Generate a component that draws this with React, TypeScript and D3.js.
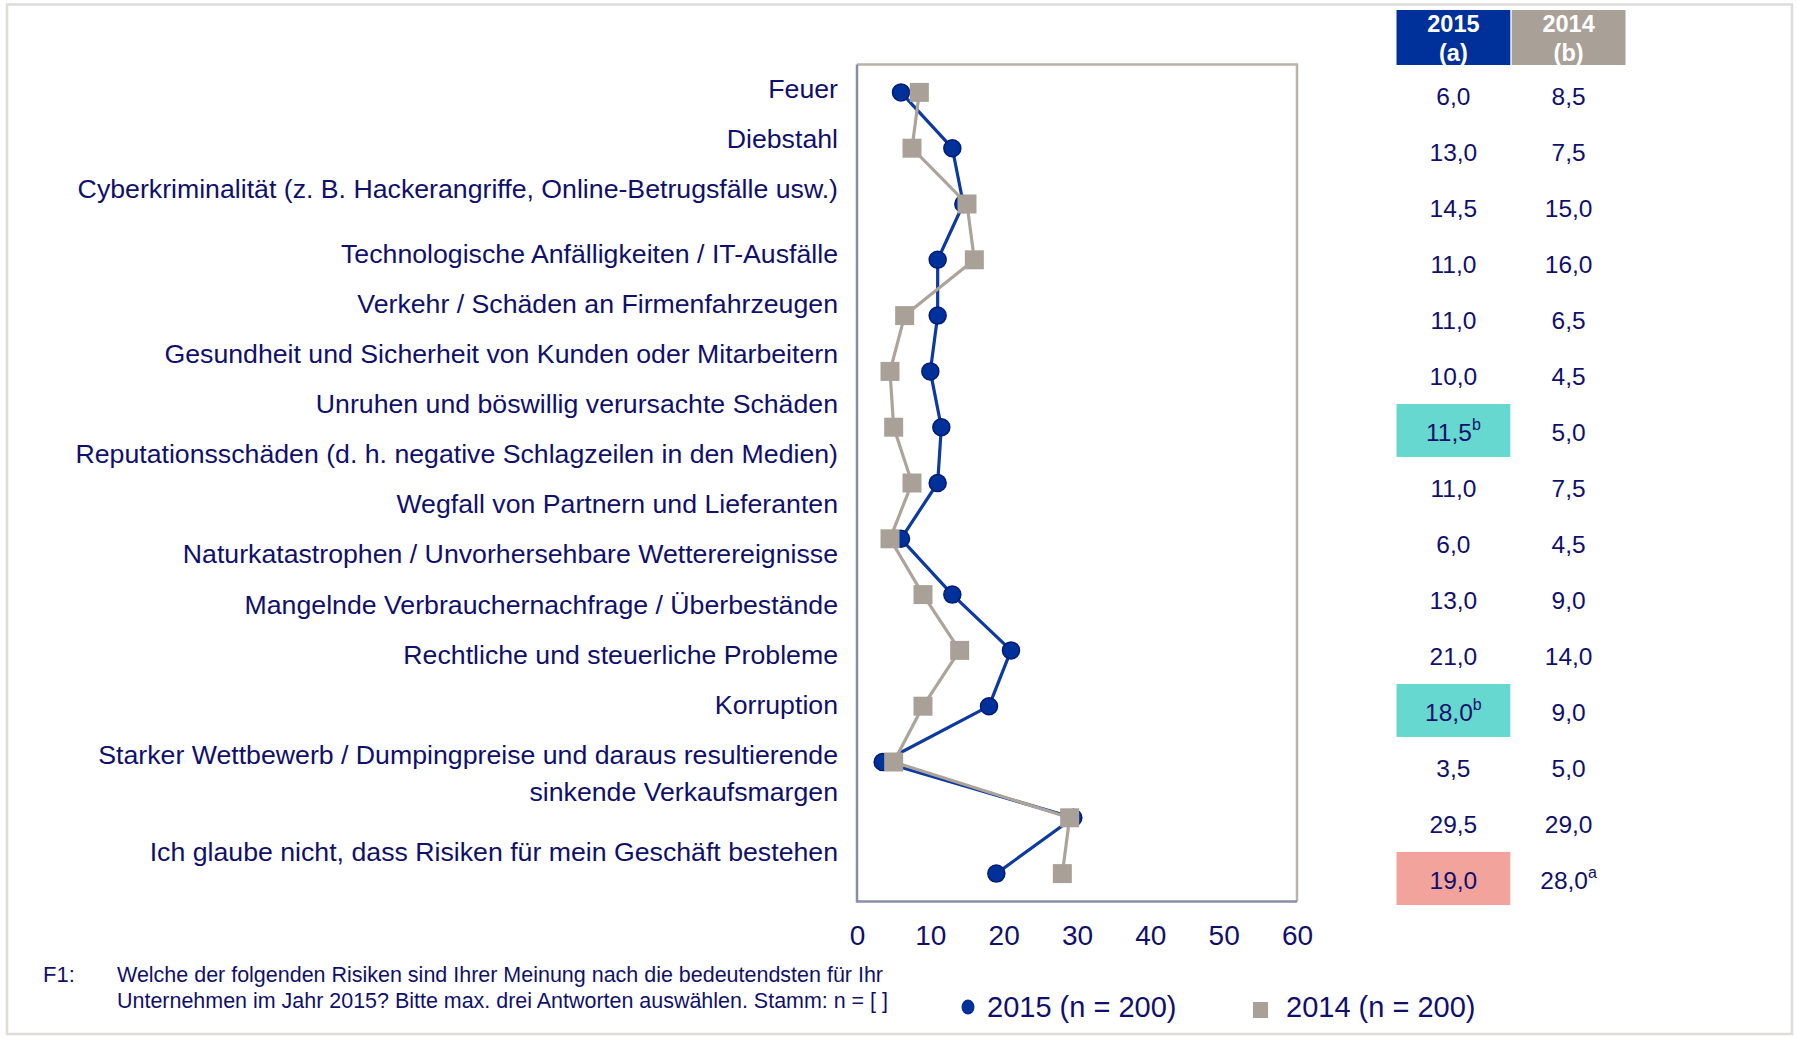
import * as d3 from "d3";
import React from "react";

// risk categories as printed on the left (one entry per label, wrapped lines split)
const labels: string[][] = [
  ["Feuer"],
  ["Diebstahl"],
  ["Cyberkriminalität (z. B. Hackerangriffe, Online-Betrugsfälle usw.)"],
  ["Technologische Anfälligkeiten / IT-Ausfälle"],
  ["Verkehr / Schäden an Firmenfahrzeugen"],
  ["Gesundheit und Sicherheit von Kunden oder Mitarbeitern"],
  ["Unruhen und böswillig verursachte Schäden"],
  ["Reputationsschäden (d. h. negative Schlagzeilen in den Medien)"],
  ["Wegfall von Partnern und Lieferanten"],
  ["Naturkatastrophen / Unvorhersehbare Wetterereignisse"],
  ["Mangelnde Verbrauchernachfrage / Überbestände"],
  ["Rechtliche und steuerliche Probleme"],
  ["Korruption"],
  ["Starker Wettbewerb / Dumpingpreise und daraus resultierende", "sinkende Verkaufsmargen"],
  ["Ich glaube nicht, dass Risiken für mein Geschäft bestehen"],
];

const values2015 = [6.0, 13.0, 14.5, 11.0, 11.0, 10.0, 11.5, 11.0, 6.0, 13.0, 21.0, 18.0, 3.5, 29.5, 19.0];
const values2014 = [8.5, 7.5, 15.0, 16.0, 6.5, 4.5, 5.0, 7.5, 4.5, 9.0, 14.0, 9.0, 5.0, 29.0, 28.0];
const sig2015 = ["", "", "", "", "", "", "b", "", "", "", "", "b", "", "", ""];
const sig2014 = ["", "", "", "", "", "", "", "", "", "", "", "", "", "", "a"];
// "up" = significantly higher than 2014, "down" = significantly lower
const change2015 = ["", "", "", "", "", "", "up", "", "", "", "", "up", "", "", "down"];

const xTicks = [0, 10, 20, 30, 40, 50, 60];
const headers = [
  ["2015", "(a)"],
  ["2014", "(b)"],
];
const legendLabels = ["2015 (n = 200)", "2014 (n = 200)"];
const footnoteTag = "F1:";
const footnote = [
  "Welche der folgenden Risiken sind Ihrer Meinung nach die bedeutendsten für Ihr",
  "Unternehmen im Jahr 2015? Bitte max. drei Antworten auswählen. Stamm: n = [ ]",
];

const W = 1797;
const H = 1038;
const NAVY = "#10106b";
const BLUE = "#00309a";
const GREY = "#a9a198";
const FONT = "'Liberation Sans', Arial, sans-serif";
const NARROW = "'Liberation Sans Narrow', 'Arial Narrow', 'Liberation Sans', sans-serif";

function fmt(v: number) {
  return d3.format(".1f")(v).replace(".", ",");
}

export default function App() {
  const svgRef = React.useRef<SVGSVGElement>(null);

  React.useEffect(() => {
    const svg = d3.select(svgRef.current);
    svg.selectAll("*").remove();

    const plot = { left: 857, right: 1297, top: 64.5, bottom: 901.5 };
    const idx = d3.range(values2015.length).map(String);

    const x = d3.scaleLinear().domain([0, 60]).range([plot.left, plot.right]);
    const y = d3.scaleBand().domain(idx).range([plot.top, plot.bottom]);
    const yc = (i: number) => (y(String(i)) as number) + y.bandwidth() / 2;

    // outer frame
    svg
      .append("rect")
      .attr("x", 7)
      .attr("y", 4.5)
      .attr("width", 1785)
      .attr("height", 1029.5)
      .attr("fill", "#fff")
      .attr("stroke", "#dfdcd8")
      .attr("stroke-width", 2.5);

    // plot box
    const box = svg.append("g");
    box
      .append("path")
      .attr("d", `M${plot.left},${plot.top}H${plot.right}V${plot.bottom}`)
      .attr("fill", "none")
      .attr("stroke", "#bab3ab")
      .attr("stroke-width", 2.5);
    box
      .append("path")
      .attr("d", `M${plot.left},${plot.top}V${plot.bottom}H${plot.right}`)
      .attr("fill", "none")
      .attr("stroke", "#8a8da6")
      .attr("stroke-width", 2.5);

    // x axis
    svg
      .append("g")
      .attr("transform", `translate(0,${plot.bottom})`)
      .call(d3.axisBottom(x).tickValues(xTicks).tickSize(0).tickPadding(24))
      .call((g: any) => g.select(".domain").remove())
      .call((g: any) =>
        g
          .selectAll("text")
          .attr("fill", NAVY)
          .attr("font-size", 28)
          .attr("font-family", FONT),
      );

    // category labels (their own line layout, not tied to the rows)
    const labelStep = 50.1;
    const wrapStep = 36.8;
    const extraGapBefore: Record<number, number> = { 3: 15, 14: 10.5 };
    let ly = 88.2;
    const lab = svg
      .append("g")
      .attr("font-family", FONT)
      .attr("font-size", 26.7)
      .attr("fill", NAVY)
      .attr("text-anchor", "end");
    labels.forEach((lines, i) => {
      if (i > 0) ly += labelStep + (extraGapBefore[i] || 0);
      lines.forEach((t, j) => {
        if (j > 0) ly += wrapStep;
        lab.append("text").attr("x", 838).attr("y", ly).attr("dy", "0.35em").text(t);
      });
    });

    // 2015 series
    const line = d3
      .line<number>()
      .x((v) => x(v))
      .y((_, i) => yc(i));
    svg
      .append("path")
      .attr("d", line(values2015))
      .attr("fill", "none")
      .attr("stroke", "#0c3a9e")
      .attr("stroke-width", 3.2)
      .attr("stroke-linejoin", "round");
    svg
      .append("g")
      .selectAll("circle")
      .data(values2015)
      .join("circle")
      .attr("cx", (v) => x(v))
      .attr("cy", (_, i) => yc(i))
      .attr("r", 8.5)
      .attr("fill", BLUE)
      .attr("stroke", "#001c74")
      .attr("stroke-width", 1.5);

    // 2014 series
    svg
      .append("path")
      .attr("d", line(values2014))
      .attr("fill", "none")
      .attr("stroke", "#aca49b")
      .attr("stroke-width", 3.2)
      .attr("stroke-linejoin", "round");
    const sq = 19;
    svg
      .append("g")
      .selectAll("rect")
      .data(values2014)
      .join("rect")
      .attr("x", (v) => x(v) - sq / 2)
      .attr("y", (_, i) => yc(i) - sq / 2)
      .attr("width", sq)
      .attr("height", sq)
      .attr("fill", GREY);

    // table on the right
    const cols = d3.scaleBand().domain(["2015", "2014"]).range([1396.5, 1625.5]).paddingInner(0.012);
    const rowsY = d3.scaleBand().domain(idx).range([68.5, 908.5]);
    const rc = (i: number) => (rowsY(String(i)) as number) + rowsY.bandwidth() / 2;
    const cw = cols.bandwidth();

    const head = svg.append("g").attr("font-family", FONT).attr("font-weight", "bold").attr("font-size", 23.5);
    headers.forEach((h, k) => {
      const cx0 = cols(h[0]) as number;
      head
        .append("rect")
        .attr("x", cx0)
        .attr("y", 10)
        .attr("width", cw)
        .attr("height", 55)
        .attr("fill", k === 0 ? BLUE : GREY);
      h.forEach((t, j) =>
        head
          .append("text")
          .attr("x", cx0 + cw / 2)
          .attr("y", 32 + j * 28.5)
          .attr("text-anchor", "middle")
          .attr("fill", "#fff")
          .text(t),
      );
    });

    const cellFill: Record<string, string> = { up: "#66d8d0", down: "#f2a39c" };
    const tbl = svg.append("g").attr("font-family", FONT).attr("font-size", 24.5).attr("fill", NAVY);
    const cellH = 53;
    const addCol = (key: string, vals: number[], sig: string[], change: string[] | null) => {
      const cx0 = cols(key) as number;
      vals.forEach((v, i) => {
        const cy = rc(i) - 2;
        if (change && change[i]) {
          tbl
            .append("rect")
            .attr("x", cx0)
            .attr("y", cy - cellH / 2)
            .attr("width", cw)
            .attr("height", cellH)
            .attr("fill", cellFill[change[i]]);
        }
        const t = tbl
          .append("text")
          .attr("x", cx0 + cw / 2)
          .attr("y", rc(i))
          .attr("dy", "0.35em")
          .attr("text-anchor", "middle");
        t.append("tspan").text(fmt(v));
        if (sig[i]) t.append("tspan").attr("font-size", 16).attr("dy", "-0.7em").text(sig[i]);
      });
    };
    addCol("2015", values2015, sig2015, change2015);
    addCol("2014", values2014, sig2014, null);

    // footnote
    const foot = svg.append("g").attr("font-family", NARROW).attr("font-size", 22).attr("fill", NAVY);
    foot.append("text").attr("x", 43).attr("y", 974).attr("dy", "0.35em").text(footnoteTag);
    footnote.forEach((t, j) =>
      foot
        .append("text")
        .attr("x", 117)
        .attr("y", 974 + j * 26)
        .attr("dy", "0.35em")
        .attr("textLength", j === 0 ? 766 : 771)
        .attr("lengthAdjust", "spacingAndGlyphs")
        .text(t),
    );

    // legend
    const leg = svg.append("g").attr("font-family", FONT).attr("font-size", 29).attr("fill", NAVY);
    leg.append("ellipse").attr("cx", 968).attr("cy", 1007).attr("rx", 6.5).attr("ry", 7.5).attr("fill", BLUE);
    leg.append("text").attr("x", 987).attr("y", 1007).attr("dy", "0.35em").text(legendLabels[0]);
    leg.append("rect").attr("x", 1253).attr("y", 1002).attr("width", 15).attr("height", 16).attr("fill", GREY);
    leg.append("text").attr("x", 1286).attr("y", 1007).attr("dy", "0.35em").text(legendLabels[1]);
  }, []);

  return (
    <svg
      ref={svgRef}
      width={W}
      height={H}
      style={{ position: "absolute", left: 0, top: 0, display: "block" }}
    />
  );
}
